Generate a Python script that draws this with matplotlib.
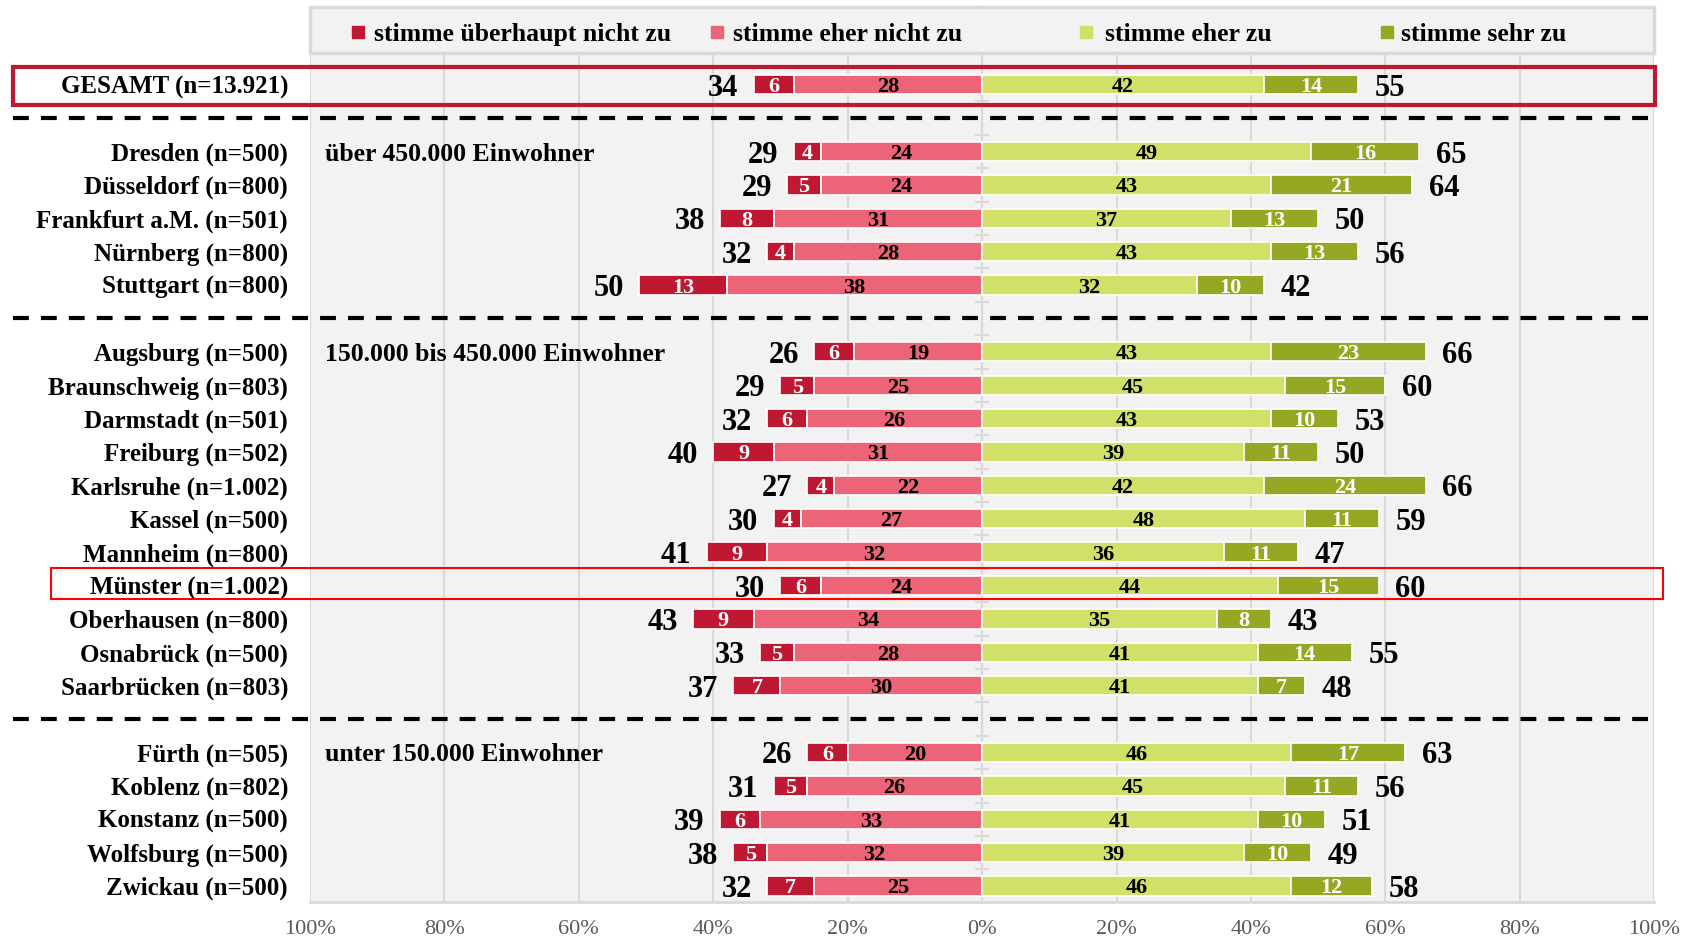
import matplotlib
matplotlib.use("Agg")
import numpy as np
import matplotlib.pyplot as plt
from matplotlib.patches import Rectangle
from matplotlib.transforms import blended_transform_factory

# data (percent)
cities = ["GESAMT (n=13.921)",
          "Dresden (n=500)", "Düsseldorf (n=800)", "Frankfurt a.M. (n=501)",
          "Nürnberg (n=800)", "Stuttgart (n=800)",
          "Augsburg (n=500)", "Braunschweig (n=803)", "Darmstadt (n=501)",
          "Freiburg (n=502)", "Karlsruhe (n=1.002)", "Kassel (n=500)",
          "Mannheim (n=800)", "Münster (n=1.002)", "Oberhausen (n=800)",
          "Osnabrück (n=500)", "Saarbrücken (n=803)",
          "Fürth (n=505)", "Koblenz (n=802)", "Konstanz (n=500)",
          "Wolfsburg (n=500)", "Zwickau (n=500)"]
strongly_disagree = [6, 4, 5, 8, 4, 13, 6, 5, 6, 9, 4, 4, 9, 6, 9, 5, 7, 6, 5, 6, 5, 7]
rather_disagree = [28, 24, 24, 31, 28, 38, 19, 25, 26, 31, 22, 27, 32, 24, 34, 28, 30, 20, 26, 33, 32, 25]
rather_agree = [42, 49, 43, 37, 43, 32, 43, 45, 43, 39, 42, 48, 36, 44, 35, 41, 41, 46, 45, 41, 39, 46]
strongly_agree = [14, 16, 21, 13, 13, 10, 23, 15, 10, 11, 24, 11, 11, 15, 8, 14, 7, 17, 11, 10, 10, 12]
total_disagree = [34, 29, 29, 38, 32, 50, 26, 29, 32, 40, 27, 30, 41, 30, 43, 33, 37, 26, 31, 39, 38, 32]
total_agree = [55, 65, 64, 50, 56, 42, 66, 60, 53, 50, 66, 59, 47, 60, 43, 55, 48, 63, 56, 51, 49, 58]

group_sizes = [1, 5, 11, 5]
group_names = ["", "über 450.000 Einwohner", "150.000 bis 450.000 Einwohner",
               "unter 150.000 Einwohner"]
legend_labels = ["stimme überhaupt nicht zu", "stimme eher nicht zu",
                 "stimme eher zu", "stimme sehr zu"]
highlight = "Münster (n=1.002)"

colors = ["#be1832", "#ec6478", "#d1e069", "#96a823"]
text_colors = ["white", "black", "black", "white"]

plt.rcParams['font.family'] = ['Liberation Serif', 'DejaVu Serif']

# row positions, one empty row between the groups
ypos, sep_rows, group_first = [], [], []
pos = 0
for gi, n in enumerate(group_sizes):
    if gi > 0:
        sep_rows.append(pos)
        pos += 1
    group_first.append(pos)
    ypos.extend(range(pos, pos + n))
    pos += n
ypos = np.array(ypos)

sd = np.array(strongly_disagree)
rd = np.array(rather_disagree)
ra = np.array(rather_agree)
sa = np.array(strongly_agree)

fig = plt.figure(figsize=(16.86, 9.39), dpi=100)
ax = fig.add_axes([0.1839, 0.0394, 0.7972, 0.9531])
ax.set_facecolor("#f2f2f2")

h = 0.58
bars = []
bars.append(ax.barh(ypos, -sd, left=-rd, height=h, color=colors[0], edgecolor="white", lw=1.2, zorder=3))
bars.append(ax.barh(ypos, -rd, height=h, color=colors[1], edgecolor="white", lw=1.2, zorder=3))
bars.append(ax.barh(ypos, ra, height=h, color=colors[2], edgecolor="white", lw=1.2, zorder=3))
bars.append(ax.barh(ypos, sa, left=ra, height=h, color=colors[3], edgecolor="white", lw=1.2, zorder=3))
for cont, vals, tc in zip(bars, [sd, rd, ra, sa], text_colors):
    txts = ax.bar_label(cont, labels=[str(v) for v in vals], label_type="center",
                        color=tc, fontsize=16, fontweight="bold", zorder=4)
    for t in txts:
        t.set_va("center_baseline")

for y, l, r, tl, tr in zip(ypos, sd + rd, ra + sa, total_disagree, total_agree):
    ax.annotate(str(tl), xy=(-l, y), xytext=(-11, 0), textcoords="offset points",
                ha="right", va="center_baseline", fontsize=22, fontweight="bold")
    ax.annotate(str(tr), xy=(r, y), xytext=(12, 0), textcoords="offset points",
                ha="left", va="center_baseline", fontsize=22, fontweight="bold")

ax.set_xlim(-100, 100)
ax.set_ylim(24.48, -2.327)

ax.set_xticks(range(-100, 101, 20))
ax.set_xticklabels([f"{abs(v)}%" for v in range(-100, 101, 20)])
ax.tick_params(axis="x", length=0, pad=13, labelsize=16, labelcolor="#595959")
ax.xaxis.grid(True, color="#d9d9d9", lw=1.5)
ax.set_axisbelow(True)

# category axis sits on the zero line
ax.spines["left"].set_position(("data", 0))
ax.spines["left"].set_color("#d9d9d9")
ax.spines["left"].set_linewidth(1.5)
ax.set_yticks(np.arange(0.5, 24, 1))
ax.tick_params(axis="y", direction="inout", length=10, width=1.5,
               color="#d9d9d9", labelleft=False)
ax.spines["top"].set_visible(False)
ax.spines["right"].set_visible(False)
ax.spines["bottom"].set_color("#d9d9d9")
ax.spines["bottom"].set_linewidth(2)

lab_tr = blended_transform_factory(ax.transAxes, ax.transData)
for y, name in zip(ypos, cities):
    ax.text(-0.0164, y, name, transform=lab_tr, ha="right", va="center_baseline",
            fontsize=18, fontweight="bold")
for y, g in zip(group_first, group_names):
    if g:
        ax.text(0.0112, y, g, transform=lab_tr, ha="left", va="center_baseline",
                fontsize=18.5, fontweight="bold")

fig_tr = blended_transform_factory(fig.transFigure, ax.transData)
for s in sep_rows:
    ax.plot([0.0077, 0.981], [s, s], transform=fig_tr, color="black", lw=3,
            dashes=(3.8, 2.9), clip_on=False, zorder=5)

ax.add_patch(Rectangle((0.0077, -0.53), 0.9739, 1.13, transform=fig_tr,
                       fill=False, ec=colors[0], lw=3, clip_on=False, zorder=6))
hy = ypos[cities.index(highlight)]
ax.add_patch(Rectangle((0.0302, hy - 0.53), 0.9562, 0.94, transform=fig_tr,
                       fill=False, ec="#ff0000", lw=1.5, clip_on=False, zorder=6))

# legend box on top of the plot area
ax.add_patch(Rectangle((0, 1 - 46 / 895), 1, 46 / 895, transform=ax.transAxes,
                       fc="#f2f2f2", ec="#d9d9d9", lw=2.5, clip_on=False, zorder=7))
mark_x = [0.0357, 0.3028, 0.5774, 0.8013]
text_x = [0.0476, 0.3147, 0.5915, 0.8118]
for mx, tx, c, lab in zip(mark_x, text_x, colors, legend_labels):
    ax.plot([mx], [0.972], marker="s", ms=8, color=c, transform=ax.transAxes,
            clip_on=False, zorder=8)
    ax.text(tx, 0.972, lab, transform=ax.transAxes, ha="left", va="center_baseline",
            fontsize=18.5, fontweight="bold", zorder=8)

fig.savefig("out.png", dpi=100)
